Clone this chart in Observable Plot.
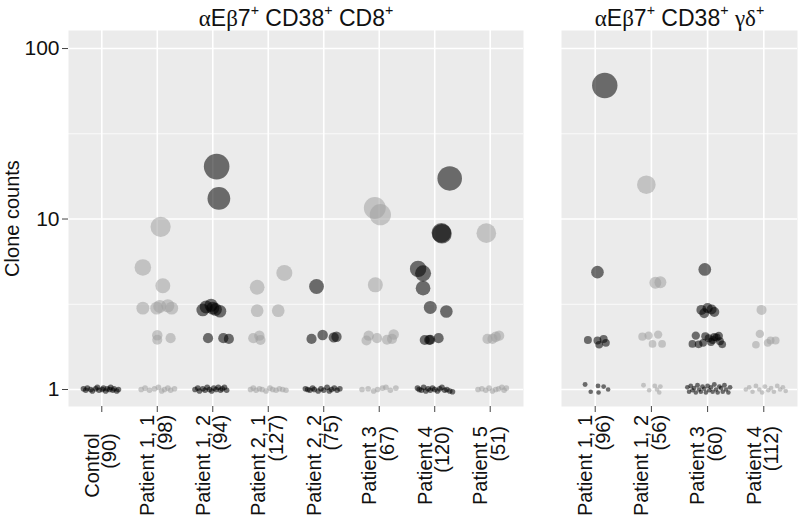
<!DOCTYPE html>
<html><head><meta charset="utf-8">
<script src="https://cdn.jsdelivr.net/npm/d3@7"></script>
<script src="https://cdn.jsdelivr.net/npm/@observablehq/plot@0.6"></script>
<style>
html,body{margin:0;padding:0;background:#fff;}
#chart{display:flex;width:800px;height:516px;font-family:"Liberation Sans",Arial,sans-serif;}
#chart svg{display:block;overflow:visible;}
</style></head><body><div id="chart"></div>
<script>
// ---------- data ----------
const leftTitle = "αEβ7⁺ CD38⁺ CD8⁺";
const rightTitle = "αEβ7⁺ CD38⁺ γδ⁺";
const yLabel = "Clone counts";
const yTicks = [1, 10, 100];

const leftCategories = ["Control", "Patient 1, 1", "Patient 1, 2", "Patient 2, 1", "Patient 2, 2", "Patient 3", "Patient 4", "Patient 5"];
const leftTotals = [90, 98, 94, 127, 75, 67, 120, 51];
const rightCategories = ["Patient 1, 1", "Patient 1, 2", "Patient 3", "Patient 4"];
const rightTotals = [96, 56, 60, 112];

// each point: [clone count (as plotted), horizontal jitter in category units]
const leftPoints = [
  // Control
  [[1.01,-0.33],[0.99,-0.29],[1.02,-0.26],[1.0,-0.2],[0.98,-0.17],[1.01,-0.11],[1.03,-0.08],[0.99,-0.05],[1.0,0.01],[1.02,0.03],[0.98,0.07],[1.01,0.1],[1.0,0.14],[1.03,0.16],[0.99,0.2],[1.01,0.22],[0.98,0.27],[1.0,0.3]],
  // Patient 1, 1
  [[9.0,0.06],[5.2,-0.26],[4.06,0.1],[3.0,-0.26],[3.0,-0.01],[3.07,0.045],[3.1,0.19],[3.0,0.26],[2.08,0.0],[1.96,0.0],[2.0,0.24],
   [1.0,-0.29],[1.02,-0.22],[0.99,-0.14],[1.01,-0.05],[1.03,0.02],[0.98,0.08],[1.0,0.13],[1.02,0.19],[0.99,0.24],[1.01,0.31]],
  // Patient 1, 2
  [[20.3,0.07],[13.2,0.11],[2.93,-0.18],[3.05,-0.12],[3.12,-0.03],[3.0,0.0],[2.95,0.05],[2.88,0.13],[2.0,-0.085],[2.0,0.19],[1.98,0.29],
   [1.0,-0.32],[1.02,-0.27],[0.98,-0.24],[1.01,-0.18],[0.99,-0.14],[1.03,-0.1],[1.0,-0.06],[0.98,-0.02],[1.02,0.02],[1.0,0.06],[1.03,0.1],[0.99,0.14],[1.01,0.17],[1.03,0.21],[0.99,0.25]],
  // Patient 2, 1
  [[4.83,0.29],[3.98,-0.2],[2.9,-0.2],[2.9,0.18],[2.0,-0.27],[2.07,-0.16],[1.95,-0.14],
   [1.0,-0.32],[1.02,-0.27],[0.99,-0.22],[1.01,-0.16],[1.0,-0.11],[0.98,-0.04],[1.02,0.03],[1.0,0.08],[0.99,0.14],[1.01,0.2],[1.0,0.26],[0.99,0.32]],
  // Patient 2, 2
  [[4.02,-0.13],[1.98,-0.22],[2.09,-0.02],[2.02,0.18],[2.04,0.23],
   [1.01,-0.33],[1.0,-0.29],[0.99,-0.25],[1.02,-0.2],[1.0,-0.17],[0.98,-0.1],[1.01,-0.05],[0.99,0.0],[1.03,0.06],[0.98,0.1],[1.0,0.14],[1.02,0.19],[0.99,0.24],[1.01,0.29]],
  // Patient 3
  [[11.6,-0.08],[10.6,0.02],[4.11,-0.07],[1.94,-0.23],[2.07,-0.19],[2.0,-0.04],[1.96,0.14],[1.98,0.23],[2.1,0.26],
   [1.0,-0.31],[1.01,-0.2],[0.98,-0.1],[1.0,-0.03],[1.02,0.06],[1.03,0.12],[0.99,0.2],[1.02,0.3]],
  // Patient 4
  [[17.3,0.27],[8.3,0.12],[8.2,0.13],[5.1,-0.3],[4.8,-0.21],[3.93,-0.21],[3.03,-0.08],[2.87,0.21],[1.95,-0.18],[1.95,-0.1],[1.96,-0.08],[2.0,0.07],
   [1.02,-0.31],[1.0,-0.28],[0.99,-0.24],[1.03,-0.2],[0.98,-0.16],[1.01,-0.12],[0.99,-0.08],[1.02,-0.04],[1.0,0.0],[0.98,0.05],[1.01,0.09],[1.03,0.13],[0.99,0.18],[1.0,0.22],[0.98,0.27],[0.97,0.32]],
  // Patient 5
  [[8.26,-0.07],[1.98,-0.05],[1.98,0.04],[2.04,0.1],[2.07,0.16],
   [1.0,-0.22],[1.01,-0.15],[0.99,-0.08],[1.02,-0.02],[0.98,0.04],[1.0,0.1],[1.01,0.15],[1.03,0.21],[0.99,0.25],[1.02,0.29]]
];

const rightPoints = [
  // Patient 1, 1
  [[60.7,0.17],[4.88,0.04],[1.95,-0.13],[1.94,0.04],[1.83,0.07],[1.98,0.15],[1.88,0.19],
   [1.07,-0.18],[0.97,-0.08],[1.05,0.05],[0.96,0.06],[1.04,0.15],[1.0,0.23]],
  // Patient 1, 2
  [[15.9,-0.09],[4.23,0.07],[4.26,0.16],[2.04,-0.16],[2.07,-0.05],[2.1,0.12],[1.85,0.02],[1.85,0.19],
   [1.06,-0.14],[0.99,-0.04],[1.05,0.06],[1.0,0.1],[1.04,0.16],[0.96,0.14]],
  // Patient 3
  [[5.06,-0.05],[2.93,-0.11],[2.8,-0.06],[3.0,0.0],[2.95,0.07],[2.85,0.12],
   [2.07,-0.21],[1.85,-0.27],[1.84,-0.16],[2.05,-0.04],[2.0,0.02],[1.9,0.06],[2.03,0.12],[2.06,0.2],[1.84,0.26],[1.95,0.09],[1.88,-0.08],[2.02,0.16],[1.92,0.22],
   [1.03,-0.36],[0.97,-0.33],[1.05,-0.3],[0.99,-0.27],[1.02,-0.24],[0.96,-0.21],[1.06,-0.18],[1.0,-0.15],[0.97,-0.12],[1.04,-0.09],[1.01,-0.06],[0.96,-0.03],[1.05,0.0],[0.99,0.03],[1.03,0.06],[0.97,0.09],[1.07,0.12],[1.0,0.15],[0.96,0.18],[1.04,0.21],[1.02,0.24],[0.97,0.27],[1.06,0.3],[1.0,0.33],[0.96,0.37],[1.03,0.4]],
  // Patient 4
  [[2.93,-0.04],[2.12,-0.07],[1.83,-0.14],[1.88,0.07],[1.94,0.12],[1.94,0.21],
   [1.0,-0.32],[1.03,-0.26],[0.97,-0.2],[1.05,-0.14],[1.0,-0.08],[0.96,-0.03],[1.04,0.02],[0.99,0.08],[1.02,0.13],[0.97,0.18],[1.05,0.24],[1.0,0.29],[1.03,0.34],[0.98,0.39]]
];

// ---------- drawing ----------
const FONT = "'Liberation Sans', Arial, Helvetica, sans-serif";
const FS = 20;        // axis title & category labels
const FS_TICK = 21;   // y tick labels
const FS_TITLE = 23;  // facet titles
const Y_DOMAIN = [0.795, 127.6];
const PANEL_TOP = 30, PANEL_BOTTOM = 406, H = 516;

const ctx = document.createElement("canvas").getContext("2d");
ctx.font = `${FS}px 'Liberation Sans'`;

function panel({categories, totals, points, title, width, marginLeft, marginRight, rRange, showY}) {
  const n = categories.length;
  const data = points.flatMap((pts, i) => pts.map(([v, j]) => ({i, v, j})));
  const maxV = d3.max(data, d => d.v);
  const labelCenterY = 465;
  const labelMarks = categories.map((c, i) => {
    const lines = [c, `(${totals[i]})`];
    const w = d3.max(lines, s => ctx.measureText(s).width);
    const top = labelCenterY - w / 2;
    return Plot.text([lines.join("\n")], {
      x: () => i, frameAnchor: "bottom", dy: top - PANEL_BOTTOM,
      rotate: -90, textAnchor: "end", lineAnchor: "middle", lineHeight: 0.88,
      fontSize: FS, fill: "#111"
    });
  });
  return Plot.plot({
    width, height: H,
    marginTop: PANEL_TOP, marginBottom: H - PANEL_BOTTOM, marginLeft, marginRight,
    style: {fontFamily: FONT, fontSize: FS + "px", background: "transparent", overflow: "visible"},
    x: {type: "linear", domain: [-0.6, n - 1 + 0.6], axis: null},
    y: {type: "log", domain: Y_DOMAIN, axis: null},
    r: {type: "log", domain: [1, maxV], range: rRange, clamp: true},
    marks: [
      Plot.frame({fill: "#EBEBEB", stroke: null}),
      Plot.gridY([Math.sqrt(10), Math.sqrt(1000)], {stroke: "#fff", strokeOpacity: 1, strokeWidth: 0.8}),
      Plot.gridY(yTicks, {stroke: "#fff", strokeOpacity: 1, strokeWidth: 1.6}),
      Plot.gridX(d3.range(n), {stroke: "#fff", strokeOpacity: 1, strokeWidth: 1.6}),
      Plot.dot(data, {
        x: d => d.i + d.j, y: "v", r: "v",
        fill: d => d.i % 2 === 0 ? "#000" : "#a0a0a0",
        fillOpacity: 0.55, stroke: null
      }),
      Plot.axisX(d3.range(n), {tickSize: 6, tickFormat: () => "", stroke: "#444", label: null}),
      showY ? Plot.axisY(yTicks, {tickSize: 6, tickPadding: 3, tickFormat: d => String(d), stroke: "#444", fill: "#111", fontSize: FS_TICK, label: null}) : null,
      showY ? Plot.text([yLabel], {frameAnchor: "left", dx: -56, rotate: -90, fontSize: FS, fill: "#111", textAnchor: "middle", lineAnchor: "middle"}) : null,
      Plot.text([title], {frameAnchor: "top", dy: -12, fontSize: FS_TITLE, fill: "#111", lineAnchor: "middle", className: "facet-title"}),
      ...labelMarks
    ]
  });
}

// Render Greek letters in a serif face and "⁺" as a true superscript plus
function richTitle(svg) {
  svg.querySelectorAll(".facet-title text").forEach(t => {
    const s = t.textContent;
    t.textContent = "";
    let raised = false;
    for (const ch of s) {
      const ts = document.createElementNS("http://www.w3.org/2000/svg", "tspan");
      if (ch === "⁺") {
        ts.textContent = "+";
        ts.setAttribute("font-size", "0.62em");
        ts.setAttribute("dy", "-0.75em");
        raised = true;
      } else {
        ts.textContent = ch;
        if (raised) { ts.setAttribute("dy", "0.465em"); raised = false; }
        if (/[α-ω]/.test(ch)) ts.setAttribute("font-family", "'Liberation Serif', 'DejaVu Serif', serif");
      }
      t.append(ts);
    }
  });
  return svg;
}

const chart = document.getElementById("chart");
chart.append(richTitle(panel({
  categories: leftCategories, totals: leftTotals, points: leftPoints, title: leftTitle,
  width: 523, marginLeft: 68, marginRight: 0, rRange: [2.8, 12.8], showY: true
})));
chart.append(richTitle(panel({
  categories: rightCategories, totals: rightTotals, points: rightPoints, title: rightTitle,
  width: 277, marginLeft: 38, marginRight: 3, rRange: [2.3, 12.7], showY: false
})));
</script></body></html>
